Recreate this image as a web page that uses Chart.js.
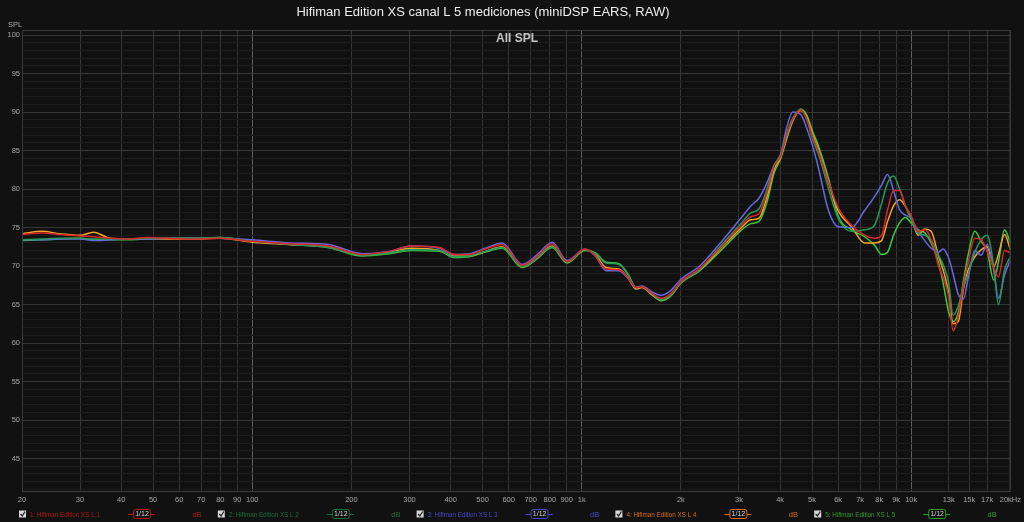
<!DOCTYPE html>
<html>
<head>
<meta charset="utf-8">
<script src="https://cdn.jsdelivr.net/npm/chart.js@4.4.0/dist/chart.umd.min.js"></script>
<style>
  html, body { margin: 0; padding: 0; background: #111111; }
  #wrap { width: 1024px; height: 522px; position: relative; }
</style>
</head>
<body>
<div id="wrap"><canvas id="fr"></canvas></div>
<script>
// frequency points (Hz)
const freqs = [20, 23, 26, 30, 33, 37, 42, 48, 55, 65, 80, 100, 130, 170, 216, 260, 304, 370, 410, 455,
  510, 574, 659, 730, 813, 903, 1023, 1100, 1185, 1297, 1380, 1462, 1524, 1640, 1739, 1850, 2014, 2268, 2600, 3040,
  3260, 3450, 3650, 3830, 4020, 4190, 4370, 4620, 4820, 5020, 5240, 5600, 6000, 6590, 7220, 7740, 8130, 8480, 8840, 9220,
  9620, 10000, 10500, 11000, 11500, 12100, 12500, 13000, 13400, 13900, 14400, 14900, 15600, 16300, 17000, 17800, 18400, 19200, 20000];

// SPL per measurement (dB)
const splL1 = [74.1, 74.3, 74.1, 73.9, 73.8, 73.6, 73.5, 73.7, 73.6, 73.5, 73.6, 73.2, 72.9, 72.6, 71.5, 71.9, 72.6, 72.4, 71.5, 71.5,
  72.2, 72.8, 70.1, 71.2, 72.9, 70.6, 72.2, 71.3, 69.6, 69.5, 68.5, 67.2, 67.3, 66.4, 65.8, 66.3, 68.1, 69.6, 72.1, 75.2,
  76.4, 76.8, 79.5, 82.8, 84.3, 87.0, 89.0, 90.3, 89.1, 86.8, 84.8, 81.0, 77.6, 75.3, 74.0, 73.6, 74.0, 77.3, 79.8, 79.8,
  77.8, 76.5, 74.5, 74.7, 73.4, 70.0, 68.5, 66.0, 61.6, 63.5, 67.5, 70.5, 73.6, 73.4, 72.0, 69.8, 68.6, 72.0, 71.7];
const splL2 = [73.4, 73.5, 73.6, 73.6, 73.5, 73.5, 73.5, 73.6, 73.6, 73.6, 73.7, 73.2, 72.8, 72.4, 71.4, 71.7, 72.1, 72.0, 71.2, 71.3,
  71.9, 72.4, 69.9, 71.0, 72.5, 70.5, 72.1, 71.6, 70.4, 70.2, 68.9, 67.2, 67.3, 66.3, 65.6, 66.1, 68.0, 69.4, 72.3, 75.5,
  76.9, 77.4, 80.0, 83.0, 84.5, 87.2, 89.2, 90.3, 89.0, 86.5, 84.4, 80.2, 76.2, 74.5, 74.7, 75.3, 78.1, 80.8, 81.7, 80.0,
  77.7, 76.0, 74.2, 74.0, 73.4, 71.4, 70.2, 67.8, 63.6, 64.8, 67.2, 69.0, 71.8, 73.4, 74.0, 70.0, 65.0, 69.5, 71.2];
const splL3 = [73.4, 73.4, 73.5, 73.5, 73.3, 73.4, 73.5, 73.5, 73.6, 73.6, 73.6, 73.4, 73.0, 72.8, 71.6, 71.9, 72.6, 72.3, 71.5, 71.6,
  72.3, 73.0, 70.2, 71.4, 73.1, 70.7, 72.2, 71.3, 69.4, 69.4, 68.4, 67.2, 67.4, 66.6, 66.2, 66.7, 68.4, 69.9, 72.7, 76.2,
  77.8, 78.8, 80.8, 83.0, 84.6, 88.0, 90.0, 89.7, 87.9, 85.6, 82.6, 77.3, 75.1, 75.0, 77.2, 79.0, 80.5, 81.9, 79.8, 77.3,
  76.6, 76.2, 74.5, 73.3, 72.3, 71.8, 72.2, 71.0, 69.0, 66.3, 65.7, 68.5, 72.0, 71.4, 72.8, 69.5, 65.8, 68.8, 70.8];
const splL4 = [74.2, 74.5, 74.2, 74.0, 74.4, 73.6, 73.5, 73.6, 73.5, 73.5, 73.6, 73.1, 72.8, 72.5, 71.5, 71.8, 72.3, 72.0, 71.3, 71.3,
  71.9, 72.5, 69.9, 71.0, 72.6, 70.5, 72.1, 71.5, 69.8, 69.6, 68.5, 67.0, 67.2, 66.2, 65.6, 66.1, 68.0, 69.4, 72.0, 74.9,
  76.0, 76.2, 79.0, 82.5, 84.2, 86.8, 88.9, 90.2, 89.3, 87.0, 85.0, 81.0, 77.2, 75.1, 73.0, 73.0, 73.3, 75.8, 77.8, 78.6,
  77.7, 76.3, 74.0, 74.8, 74.5, 71.3, 69.5, 66.5, 62.5, 62.8, 67.0, 69.5, 71.2, 72.1, 72.5, 69.9, 71.5, 74.1, 72.1];
const splL5 = [73.3, 73.4, 73.5, 73.6, 73.4, 73.4, 73.4, 73.5, 73.6, 73.6, 73.7, 73.2, 72.8, 72.4, 71.3, 71.6, 72.0, 71.9, 71.1, 71.2,
  71.8, 72.3, 69.8, 70.9, 72.4, 70.4, 72.0, 71.7, 70.5, 70.3, 69.0, 67.2, 67.3, 66.2, 65.5, 66.0, 67.9, 69.3, 71.7, 74.6,
  75.5, 75.8, 78.3, 82.0, 84.0, 86.5, 88.8, 90.4, 89.6, 87.5, 85.5, 81.5, 76.5, 74.7, 73.8, 72.7, 71.5, 71.8, 74.0, 75.6,
  76.3, 75.6, 74.7, 74.3, 73.0, 70.5, 67.8, 64.0, 62.8, 64.0, 68.0, 71.5, 74.5, 73.2, 72.0, 68.2, 70.5, 74.7, 73.0];

const seriesNames = ['1: Hifiman Edition XS L 1', '2: Hifiman Edition XS L 2', '3: Hifiman Edition XS L 3',
  '4: Hifiman Edition XS L 4', '5: Hifiman Edition XS L 5'];
const seriesData = [splL1, splL2, splL3, splL4, splL5];

// x axis ticks
const xTickValues = [20, 30, 40, 50, 60, 70, 80, 90, 100, 200, 300, 400, 500, 600, 700, 800, 900, 1000,
  2000, 3000, 4000, 5000, 6000, 7000, 8000, 9000, 10000, 13000, 15000, 17000, 20000];
const xTickLabels = ['20', '30', '40', '50', '60', '70', '80', '90', '100', '200', '300', '400', '500', '600', '700', '800', '900', '1k',
  '2k', '3k', '4k', '5k', '6k', '7k', '8k', '9k', '10k', '13k', '15k', '17k', '20kHz'];
const yTickLabels = [45, 50, 55, 60, 65, 70, 75, 80, 85, 90, 95, 100];

const lineColors = ['#d8262a', '#27985a', '#6868e4', '#f2a52a', '#3ccc38'];
const legendColors = ['#b01818', '#1c6e3e', '#4848c8', '#d86c14', '#2c9c2c'];

const FONT = '"Liberation Sans", Arial, sans-serif';

// background + frame + labels
const decor = {
  id: 'decor',
  beforeDraw(chart) {
    const c = chart.ctx;
    c.save();
    c.fillStyle = '#111111';
    c.fillRect(0, 0, chart.width, chart.height);
    c.restore();
  },
  afterDraw(chart) {
    const c = chart.ctx;
    const a = chart.chartArea;
    c.save();
    c.strokeStyle = '#3a3a3a';
    c.lineWidth = 1;
    c.strokeRect(a.left + 0.5, a.top + 0.5, a.right - a.left - 1, a.bottom - a.top - 1);

    c.fillStyle = '#eeeeee';
    c.font = '13px ' + FONT;
    c.textAlign = 'center';
    c.textBaseline = 'middle';
    c.fillText('Hifiman Edition XS canal L 5 mediciones (miniDSP EARS, RAW)', 483, 12);

    c.fillStyle = '#c4c4c4';
    c.font = 'bold 12px ' + FONT;
    c.fillText('All SPL', 517, 39);

    c.fillStyle = '#a8a8a8';
    c.font = '7.5px ' + FONT;
    c.textAlign = 'left';
    c.fillText('SPL', 8, 25);

    // legend row
    const y = 514;
    seriesNames.forEach((name, i) => {
      const x = 18 + i * 198.8;
      c.fillStyle = '#d8d8d8';
      c.fillRect(x + 1, y - 3.5, 7, 7);
      c.strokeStyle = '#222';
      c.lineWidth = 1.2;
      c.beginPath();
      c.moveTo(x + 2.5, y);
      c.lineTo(x + 4.3, y + 2);
      c.lineTo(x + 7, y - 2.5);
      c.stroke();

      c.fillStyle = legendColors[i];
      c.font = '7.5px ' + FONT;
      c.textAlign = 'left';
      c.fillText(name, x + 12, y + 0.5, 70);

      // smoothing icon
      c.strokeStyle = legendColors[i];
      c.lineWidth = 1;
      c.beginPath();
      c.moveTo(x + 110, y + 0.5);
      c.lineTo(x + 137, y + 0.5);
      c.stroke();
      c.fillStyle = '#111111';
      c.beginPath();
      c.roundRect(x + 115.5, y - 4.5, 17, 9, 2);
      c.fill();
      c.stroke();
      c.fillStyle = '#d0d0d0';
      c.font = '7px ' + FONT;
      c.textAlign = 'center';
      c.fillText('1/12', x + 124, y + 0.5);

      c.fillStyle = legendColors[i];
      c.font = '7.5px ' + FONT;
      c.fillText('dB', x + 179, y + 0.5);
    });
    c.restore();
  }
};

const datasets = seriesData.map((vals, i) => ({
  label: seriesNames[i],
  data: freqs.map((f, k) => ({ x: f, y: vals[k] })),
  borderColor: lineColors[i],
  borderWidth: 1.5,
  pointRadius: 0,
  fill: false,
  cubicInterpolationMode: 'monotone'
}));

const ctx = document.getElementById('fr').getContext('2d');
const frChart = new Chart(ctx, {
  type: 'line',
  data: { datasets: datasets },
  options: {
    responsive: true,
    maintainAspectRatio: false,
    animation: false,
    devicePixelRatio: 1,
    layout: { padding: { top: 30, right: 12, left: 0, bottom: 18 } },
    plugins: {
      legend: { display: false },
      title: { display: false },
      tooltip: { enabled: false }
    },
    scales: {
      x: {
        type: 'logarithmic',
        min: 20,
        max: 20000,
        afterBuildTicks: (scale) => { scale.ticks = xTickValues.map(v => ({ value: v })); },
        afterFit: (scale) => { scale.height = 12; },
        border: { display: false },
        grid: {
          drawTicks: false,
          color: (c) => [100, 1000, 10000].includes(c.tick && c.tick.value) ? '#5c5c5c' : '#363636'
        },
        ticks: {
          autoSkip: false,
          maxRotation: 0,
          padding: 3,
          color: '#a8a8a8',
          font: { family: FONT, size: 7.5 },
          callback: (v) => {
            const k = xTickValues.indexOf(v);
            return k >= 0 ? xTickLabels[k] : '';
          }
        }
      },
      y: {
        min: 40.65,
        max: 100.65,
        afterBuildTicks: (scale) => {
          const t = [];
          for (let v = 41; v <= 100; v++) t.push({ value: v });
          scale.ticks = t;
        },
        afterFit: (scale) => { scale.width = 22; },
        border: { display: false },
        grid: {
          drawTicks: false,
          color: (c) => (c.tick && yTickLabels.includes(c.tick.value)) ? '#363636' : '#1c1c1c'
        },
        ticks: {
          autoSkip: false,
          padding: 2,
          color: '#a8a8a8',
          font: { family: FONT, size: 7.5 },
          callback: (v) => yTickLabels.includes(v) ? String(v) : ''
        }
      }
    }
  },
  plugins: [decor]
});
</script>
</body>
</html>
